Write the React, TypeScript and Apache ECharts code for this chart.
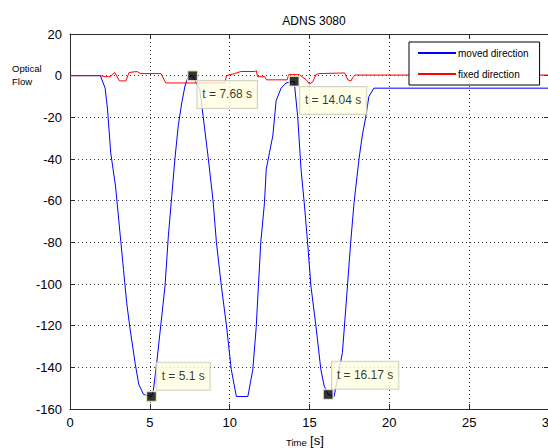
import React, { useEffect, useRef } from "react";
import * as echarts from "echarts";

// ---- data ----
const movedT = [0, 1.9, 2.2, 2.35, 2.55, 2.85, 3.15, 3.35, 3.55, 3.77, 4.08, 4.3, 4.6, 5.1, 5.22, 5.43, 5.64, 5.95, 6.16, 6.37, 6.57, 6.78, 7.0, 7.2, 7.4, 7.68, 8.13, 8.34, 8.65, 8.96, 9.17, 9.48, 9.8, 10.1, 10.42, 11.14, 11.45, 11.66, 11.8, 11.95, 12.18, 12.29, 12.49, 12.7, 12.91, 13.22, 13.53, 14.04, 14.26, 14.47, 14.67, 14.88, 15.09, 15.4, 15.71, 15.92, 16.17, 16.54, 17.06, 17.27, 17.58, 17.79, 18.1, 18.3, 18.52, 18.72, 19.03, 30];
const movedV = [0, 0, -6, -16, -37, -53, -77, -93, -109, -122, -138, -148, -153, -154, -151, -138, -123, -101, -77, -58, -40, -24, -13, -5, -0.5, 0, -6.7, -19.6, -39, -60, -80, -101, -120, -141, -154, -154, -141, -121, -101, -80, -61, -45, -37, -29, -12, -6, -3.5, -2.7, -19.6, -45, -61, -80, -101, -120, -141, -149, -153, -154, -133, -112, -80, -61, -40, -29, -20, -10, -6, -6];

const fixedT = [0, 1.9, 2.2, 2.5, 2.8, 3.1, 3.5, 3.7, 4.2, 4.4, 5.7, 6.0, 9.7, 9.8, 10.3, 10.7, 11.6, 11.66, 11.75, 12.2, 12.3, 13.6, 13.7, 14.35, 14.8, 15.0, 15.2, 15.4, 15.6, 17.2, 17.4, 17.6, 17.7, 17.85, 30];
const fixedV = [0, 0, -0.5, -0.5, 1.5, -2.5, -2.5, 1.5, 2, 1, 1, -3.5, -3.5, 0, 1, 2, 2, 2.5, -0.5, -0.5, -2, -2, 0.5, 0.5, -2, -4, -3, 0.5, 1, 1.3, -2, -2.5, -1, 0.3, 0.3];

const tipT = [5.1, 7.68, 14.04, 16.17];
const tipV = [-154, 0, -2.7, -153];

const seriesNames = ["moved direction", "fixed direction"];
const xTickMin = 0, xTickMax = 30, xTickStep = 5;
const yTickMin = -160, yTickMax = 20, yTickStep = 20;

// ---- styles ----
const tipLabelPos = [[11, -28], [10.5, 11], [11.5, 11.5], [9.5, -27]];
const FONT = '"Liberation Sans", Arial, Helvetica, sans-serif';
const AXIS_COLOR = "#2b2b2b";

export default function App() {
  const ref = useRef<HTMLDivElement>(null);
  useEffect(() => {
    if (!ref.current) return;
    const chart = echarts.init(ref.current, undefined, { renderer: "svg" });
    const zip = (a: number[], b: number[]) => a.map((v, i) => [v, b[i]]);
    const grid = { left: 70, top: 34, width: 479, height: 375, containLabel: false, outerBoundsMode: "none" };
    const gridLine = { show: true, lineStyle: { color: "#3a3a3a", type: [1, 3] as any, width: 1 } };
    const baseAxis = {
      axisLine: { show: true, onZero: false, lineStyle: { color: AXIS_COLOR, width: 1 } },
      axisTick: { show: true, inside: true, length: 5, lineStyle: { color: AXIS_COLOR } },
    };
    chart.setOption({
      animation: false,
      backgroundColor: "#ffffff",
      textStyle: { fontFamily: FONT },
      title: {
        text: "ADNS 3080",
        left: 309,
        top: 10,
        textAlign: "center",
        textStyle: { fontSize: 12, fontWeight: "normal", color: "#000", fontFamily: FONT },
      },
      legend: {
        data: seriesNames,
        orient: "vertical",
        left: 409,
        top: 42,
        backgroundColor: "#fff",
        borderColor: "#000",
        borderWidth: 1,
        padding: [6, 11, 6, 9],
        itemWidth: 38,
        itemHeight: 2,
        itemGap: 11,
        icon: "rect",
        textStyle: { fontSize: 10, color: "#000", fontFamily: FONT, padding: [0, 0, 0, -3] },
      },
      grid,
      xAxis: [
        {
          type: "value", min: xTickMin, max: xTickMax, interval: xTickStep, position: "bottom",
          ...baseAxis,
          axisLabel: { fontSize: 13, color: "#000", margin: 7, fontFamily: FONT },
          splitLine: gridLine,
        },
        {
          type: "value", min: xTickMin, max: xTickMax, interval: xTickStep, position: "top",
          ...baseAxis,
          axisLabel: { show: false },
          splitLine: { show: false },
        },
      ],
      yAxis: [
        {
          type: "value", min: yTickMin, max: yTickMax, interval: yTickStep, position: "left",
          ...baseAxis,
          axisLabel: { fontSize: 13, color: "#000", margin: 8, fontFamily: FONT },
          splitLine: gridLine,
        },
        {
          type: "value", min: yTickMin, max: yTickMax, interval: yTickStep, position: "right",
          ...baseAxis,
          axisLabel: { show: false },
          splitLine: { show: false },
        },
      ],
      graphic: [
        {
          type: "text", left: 12, top: 62,
          style: { text: "Optical\nFlow", fontSize: 9.5, lineHeight: 13, fill: "#000", font: `9.5px ${FONT}` },
        },
        {
          type: "text", left: 286, top: 434,
          style: {
            text: "{a|Time} {b|[s]}",
            rich: {
              a: { fontSize: 9.5, fontFamily: FONT, fill: "#000", verticalAlign: "bottom" },
              b: { fontSize: 13, fontFamily: FONT, fill: "#000" },
            },
          },
        },
      ],
      series: [
        {
          name: seriesNames[0], type: "line", data: zip(movedT, movedV), showSymbol: false,
          lineStyle: { color: "#0000ff", width: 1 }, itemStyle: { color: "#0000ff" }, z: 2,
        },
        {
          name: seriesNames[1], type: "line", data: zip(fixedT, fixedV), showSymbol: false,
          lineStyle: { color: "#ff0000", width: 1 }, itemStyle: { color: "#ff0000" }, z: 3,
        },
        {
          name: "tips", type: "scatter", z: 5,
          symbol: "rect", symbolSize: 10,
          itemStyle: { color: "#000", borderColor: "#f8f4c8", borderWidth: 1.5 },
          data: tipT.map((t, i) => ({
            value: [t, tipV[i]],
            label: {
              show: true,
              position: tipLabelPos[i],
              formatter: `t = ${t} s`,
              fontSize: 12,
              lineHeight: 14,
              color: "#000",
              fontFamily: FONT,
              backgroundColor: "#ffffe1",
              borderColor: "#c8c8b8",
              borderWidth: 1,
              padding: [6, 5, 7, 5],
            },
          })),
          emphasis: { disabled: true },
        },
      ],
    });
    return () => chart.dispose();
  }, []);
  return (
    <div
      ref={ref}
      style={{ position: "fixed", left: 0, top: 0, width: 548, height: 448, background: "#fff" }}
    />
  );
}
